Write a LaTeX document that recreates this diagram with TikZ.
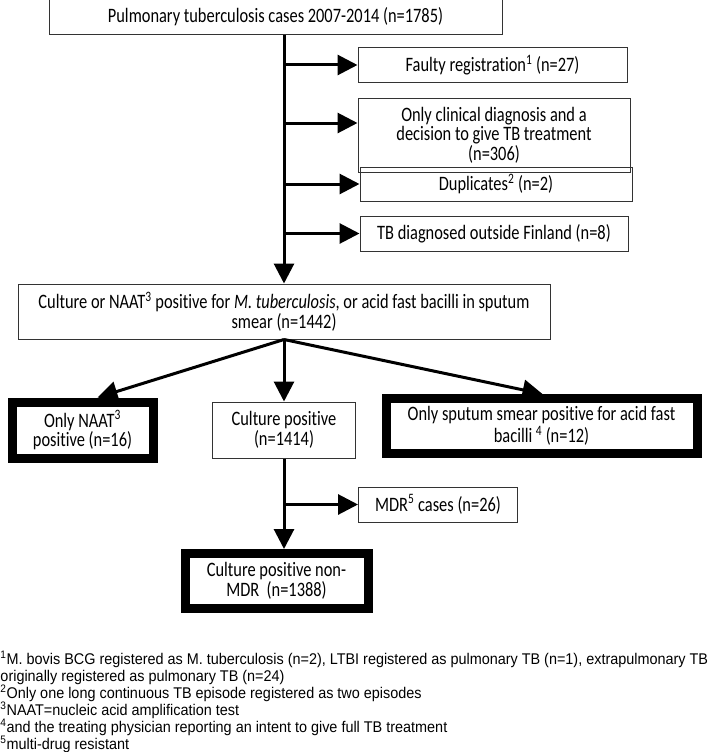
\documentclass[tikz,border=0pt]{standalone}
\usepackage{fontspec}
\setmainfont{Carlito}
\newfontfamily\boxfont[FakeStretch=0.8,RawFeature={-liga;-clig;-dlig}]{Carlito}
\newfontfamily\notefont[FakeStretch=0.93]{Liberation Sans}
\usetikzlibrary{positioning,arrows.meta}

\begin{document}
\begin{tikzpicture}
[x=1pt,y=1pt,
 every node/.style={draw=black!80,line width=1pt,inner sep=0pt,align=center,font=\boxfont\fontsize{20.5}{19.5}\selectfont},
 box/.style={rectangle},
 bold/.style={rectangle,draw=black,line width=9pt},
 arr/.style={line width=3pt,-{Triangle[length=20pt,width=20pt]}}]
\useasboundingbox (0,0) rectangle (709,-752);
\node[box,minimum width=453pt,minimum height=36pt] (cases) at (275.5,-17) {Pulmonary tuberculosis cases 2007-2014 (n=1785)};
\node[box,minimum width=269pt,minimum height=34pt] (faulty)    [on grid,below right=48pt and 217pt of cases]      {Faulty registration\textsuperscript{1} (n=27)};
\node[box,minimum width=272pt,minimum height=74pt] (clinical)  [on grid,below right=70pt and 1.5pt of faulty]     {Only clinical diagnosis and a\\decision to give TB treatment\\(n=306)};
\node[box,minimum width=272pt,minimum height=34pt] (dupl)      [on grid,below right=49pt and 2pt of clinical]     {Duplicates\textsuperscript{2} (n=2)};
\node[box,minimum width=268pt,minimum height=35pt] (abroad)    [on grid,below  left=49.5pt and 2pt of dupl]       {TB diagnosed outside Finland (n=8)};
\node[box,minimum width=532pt,minimum height=55pt] (confirmed) [on grid,below right=294.5pt and 8.5pt of cases]   {Culture or NAAT\textsuperscript{3} positive for \emph{M. tuberculosis}, or acid fast bacilli in sputum\\smear (n=1442)};
\node[box,minimum width=143pt,minimum height=56pt] (culture)   [on grid,below=118.5pt of confirmed]               {Culture positive\\(n=1414)};
\node[bold,minimum width=141pt,minimum height=56pt] (naat)     [on grid,left=201.5pt of culture]                  {Only NAAT\textsuperscript{3}\\positive (n=16)};
\node[bold,minimum width=311pt,minimum height=55pt] (smear)    [on grid,above right=4pt and 257.5pt of culture]   {Only sputum smear positive for acid fast\\[1pt]bacilli\,\textsuperscript{4} (n=12)};
\node[box,minimum width=159pt,minimum height=35pt] (mdr)       [on grid,below right=74.5pt and 154pt of culture]  {MDR\textsuperscript{5} cases (n=26)};
\node[bold,minimum width=183pt,minimum height=55pt] (nonmdr)   [on grid,below  left=151pt and 7.5pt of culture]   {Culture positive non-\\MDR\ \ (n=1388)};
\node[draw=none,anchor=north west,align=left,font=\notefont\fontsize{15.5}{17}\selectfont] (notes) at (0,-651)
 {\textsuperscript{1}M. bovis BCG registered as M. tuberculosis (n=2), LTBI registered as pulmonary TB (n=1), extrapulmonary TB\\
  originally registered as pulmonary TB (n=24)\\
  \textsuperscript{2}Only one long continuous TB episode registered as two episodes\\
  \textsuperscript{3}NAAT=nucleic acid amplification test\\
  \textsuperscript{4}and the treating physician reporting an intent to give full TB treatment\\
  \textsuperscript{5}multi-drug resistant};
\draw[arr] (confirmed.north |- cases.south) -- (confirmed.north);
\draw[arr] (faulty.west -| confirmed.north) -- (faulty.west);
\draw[arr] ([yshift=12pt]clinical.west -| confirmed.north) -- ([yshift=12pt]clinical.west);
\draw[arr] (dupl.west -| confirmed.north) -- (dupl.west);
\draw[arr] (abroad.west -| confirmed.north) -- (abroad.west);
\draw[arr] (confirmed.south) -- ([xshift=15pt]naat.north);
\draw[arr] (confirmed.south) -- (culture.north);
\draw[arr] (confirmed.south) -- ([xshift=1pt]smear.north);
\draw[arr] (culture.south) -- (culture.south |- nonmdr.north);
\draw[arr] (culture.south |- mdr.west) -- (mdr.west);
\end{tikzpicture}
\end{document}
